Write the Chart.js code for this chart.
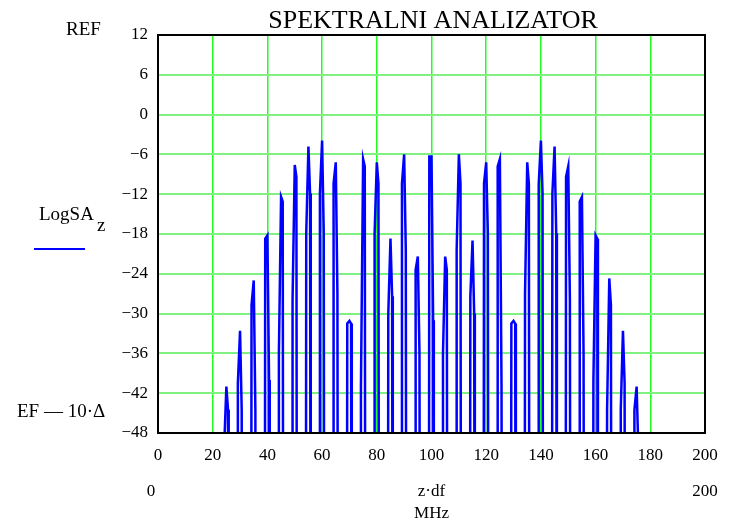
<!DOCTYPE html>
<html>
<head>
<meta charset="utf-8">
<script src="https://cdn.jsdelivr.net/npm/chart.js@4"></script>
<style>
  body { margin: 0; background: #fff; }
  #wrap { width: 730px; height: 526px; }
</style>
</head>
<body>
<div id="wrap"><canvas id="spectrum" width="730" height="526"></canvas></div>
<script>
// spectral lines, MHz
const freqs = [25, 30, 35, 40, 45, 50, 55, 60, 65, 70, 75, 80, 85, 90, 95, 100,
  105, 110, 115, 120, 125, 130, 135, 140, 145, 150, 155, 160, 165, 170, 175];
// peak level of each line, dB
const peakDb = [-41, -32.6, -25, -18.2, -12.4, -7.6, -4.8, -3.9, -7.2, -31.1, -6.7, -7.2, -18.7, -6.0, -21.4, -6.3,
  -21.4, -6.0, -19.0, -7.2, -6.7, -31.1, -7.2, -3.9, -4.8, -7.8, -12.4, -18.2, -24.7, -32.6, -41];
// level of the samples just left / right of the peak, dB
const leftDb = [-50, -40.5, -28.7, -18.7, -36, -28, -17.9, -11.9, -10.4, -31.5, -41, -17.9, -30, -10.4, -23.4, -6.3,
  -36, -20.4, -27.4, -10.4, -7.8, -31.5, -27, -10.5, -11.9, -9.4, -13.1, -40, -44.5, -44.5, -44.5];
const rightDb = [-44.5, -44.5, -44.5, -40, -13.1, -9.4, -11.9, -17.9, -27, -31.5, -7.8, -10.4, -27.4, -20.4, -36, -31,
  -23.4, -10.4, -30, -17.9, -41, -31.5, -10.4, -11.9, -17.9, -28, -36, -18.7, -28.7, -40.5, -50];
const floorDb = -100; // level between the lines, far below the visible range
const yTicks = [12, 6, 0, -6, -12, -18, -24, -30, -36, -42, -48];
const xTicks = [0, 20, 40, 60, 80, 100, 120, 140, 160, 180, 200];

const FONT = "'Liberation Serif', 'DejaVu Serif', serif";

let points = [];
freqs.forEach((f, i) => {
  points.push({ x: f - 1.0, y: floorDb });
  points.push({ x: f - 0.8, y: leftDb[i] });
  points.push({ x: f, y: peakDb[i] });
  points.push({ x: f + 0.6, y: rightDb[i] });
  points.push({ x: f + 0.85, y: floorDb });
});

const minus = v => v < 0 ? '\u2212' + Math.abs(v) : '' + v;

const labelsPlugin = {
  id: 'mathcadLabels',
  afterDraw(chart) {
    const ctx = chart.ctx;
    const a = chart.chartArea;
    ctx.save();
    // frame
    ctx.strokeStyle = '#000';
    ctx.lineWidth = 2;
    ctx.strokeRect(a.left, a.top, a.right - a.left, a.bottom - a.top);

    ctx.fillStyle = '#000';
    ctx.textBaseline = 'alphabetic';
    ctx.font = '26px ' + FONT;
    ctx.textAlign = 'center';
    ctx.fillText('SPEKTRALNI ANALIZATOR', 433, 28);

    ctx.font = '19px ' + FONT;
    ctx.textAlign = 'left';
    ctx.fillText('REF', 66, 35);
    ctx.fillText('LogSA', 39, 220);
    ctx.fillText('z', 97, 231);
    ctx.fillText('EF \u2014 10\u00b7\u0394', 17, 417);

    ctx.strokeStyle = '#0000ff';
    ctx.lineWidth = 2;
    ctx.beginPath();
    ctx.moveTo(34, 249);
    ctx.lineTo(85, 249);
    ctx.stroke();

    ctx.font = '17px ' + FONT;
    ctx.textAlign = 'center';
    ctx.fillText('0', 151, 496);
    ctx.fillText('z\u00b7df', (a.left + a.right) / 2, 496);
    ctx.fillText('200', 705, 496);
    ctx.fillText('MHz', (a.left + a.right) / 2, 518);
    ctx.restore();
  }
};

new Chart(document.getElementById('spectrum'), {
  type: 'scatter',
  data: {
    datasets: [{
      label: 'LogSA',
      data: points,
      showLine: true,
      borderColor: '#0000ff',
      backgroundColor: '#0000ff',
      borderWidth: 2.5,
      pointRadius: 0,
      tension: 0
    }]
  },
  options: {
    responsive: false,
    animation: false,
    layout: { padding: { left: 0, top: 35, right: 25, bottom: 0 } },
    plugins: {
      legend: { display: false },
      tooltip: { enabled: false }
    },
    scales: {
      x: {
        type: 'linear',
        min: 0,
        max: 200,
        afterBuildTicks: s => { s.ticks = xTicks.map(v => ({ value: v })); },
        afterFit: s => { s.height = 93; },
        grid: { color: '#20ff20', lineWidth: 1.5, drawTicks: false },
        border: { display: false },
        ticks: {
          padding: 12,
          color: '#000',
          font: { family: FONT, size: 17 },
          maxRotation: 0,
          callback: v => '' + v
        }
      },
      y: {
        type: 'linear',
        min: -48,
        max: 12,
        afterBuildTicks: s => { s.ticks = yTicks.map(v => ({ value: v })); },
        afterFit: s => { s.width = 158; },
        grid: { color: '#80f080', lineWidth: 2, drawTicks: false },
        border: { display: false },
        ticks: {
          padding: 10,
          color: '#000',
          font: { family: FONT, size: 17 },
          callback: v => minus(v)
        }
      }
    }
  },
  plugins: [labelsPlugin]
});
</script>
</body>
</html>
